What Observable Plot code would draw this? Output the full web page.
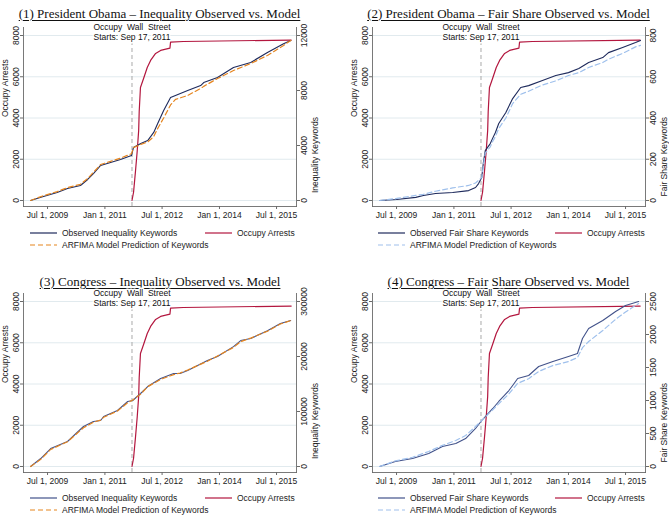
<!DOCTYPE html>
<html><head><meta charset="utf-8">
<script src="https://cdn.jsdelivr.net/npm/d3@7"></script>
<script src="https://cdn.jsdelivr.net/npm/@observablehq/plot@0.6"></script>
<style>
body{margin:0;background:#fff;}
#page{position:relative;width:669px;height:516px;overflow:hidden;background:#fff;font-family:"Liberation Sans",Arial,sans-serif;}
.title{position:absolute;font-family:"Liberation Serif","Times New Roman",serif;font-size:13px;line-height:13px;text-decoration:underline;text-decoration-thickness:1px;text-underline-offset:2px;white-space:nowrap;transform:translateX(-50%);color:#111;}
.plot{position:absolute;}
.plot svg{position:absolute;left:0;top:0;overflow:visible;}
.leg{position:absolute;font-size:8.5px;line-height:10px;white-space:nowrap;color:#222;}
.sw{position:absolute;overflow:visible;}
.annot{white-space:pre;}
</style></head><body><div id="page"></div>
<script>
// ---------- data ----------
const titles = [
  "(1) President Obama \u2013 Inequality Observed vs. Model",
  "(2) President Obama \u2013 Fair Share Observed vs. Model",
  "(3) Congress \u2013 Inequality Observed vs. Model",
  "(4) Congress \u2013 Fair Share Observed vs. Model"
];
const xTickDates = ["2009-07-01","2011-01-01","2012-07-01","2014-01-01","2015-07-01"];
const xDomainDates = ["2008-11-13","2016-01-08"];
const owsDateStr = "2011-09-17";
const annotationLine1 = "Occupy  Wall  Street";
const annotationLine2 = "Starts: Sep 17, 2011";

const arrestTicks = [0,2000,4000,6000,8000];
const arrestDomain = [-291, 8388];
const arrestDates = ["2011-09-17","2011-10-02","2011-10-21","2011-11-06","2011-11-20","2011-11-25","2011-12-07","2012-01-05","2012-02-10","2012-03-13","2012-04-30","2012-06-17","2012-09-14","2012-09-20","2013-01-20","2015-11-18"];
const arrestValues = [0,400,1450,2400,3400,4300,5480,5900,6450,6790,7130,7275,7390,7680,7710,7780];

// Panel 1: President Obama - Inequality
const p1Ticks = [0,4000,8000,12000];
const p1Domain = [-436, 12582];
const p1Dates = ["2009-01-20","2009-05-15","2009-10-01","2010-01-08","2010-05-12","2010-07-20","2010-09-13","2010-11-21","2011-02-24","2011-05-30","2011-09-12","2011-10-01","2011-12-10","2012-02-14","2012-04-12","2012-05-20","2012-07-16","2012-09-20","2012-11-06","2013-03-03","2013-07-05","2013-08-03","2013-12-13","2014-05-15","2014-10-27","2015-04-05","2015-09-06","2015-11-14"];
const p1Observed = [0,270,580,870,1090,1530,1960,2550,2760,2980,3270,3850,4150,4360,4950,5600,6550,7490,7640,8000,8360,8580,8950,9670,10040,10760,11400,11640];
const p1Model = [0,330,650,940,1180,1600,2050,2620,2850,3080,3400,3850,4080,4250,4650,5240,6000,6950,7350,7640,8150,8300,8870,9450,9960,10550,11270,11640];

// Panel 2: President Obama - Fair Share
const p2Ticks = [0,200,400,600,800];
const p2Domain = [-29.1, 838.8];
const p2Dates = ["2009-01-20","2009-07-01","2010-01-01","2010-03-15","2010-07-09","2010-12-20","2011-05-22","2011-07-27","2011-08-25","2011-09-24","2011-10-10","2011-10-28","2011-12-15","2012-01-05","2012-02-02","2012-03-05","2012-05-12","2012-07-16","2012-10-01","2012-12-16","2013-04-27","2013-09-02","2014-01-01","2014-04-10","2014-07-13","2014-11-25","2015-01-19","2015-06-03","2015-10-05","2015-11-21"];
const p2Observed = [0,5,15,24,34,39,48,63,82,111,184,242,276,300,330,373,427,494,548,557,582,606,620,640,669,693,717,742,766,776];
const p2Model = [0,10,25,30,45,61,73,85,98,111,170,230,260,285,310,349,400,470,515,530,560,580,606,620,645,669,685,713,745,752];

// Panel 3: Congress - Inequality
const p3Ticks = [0,100000,200000,300000];
const p3Domain = [-10909, 314545];
const p3Dates = ["2009-01-20","2009-04-27","2009-07-31","2010-01-08","2010-06-10","2010-09-13","2010-11-21","2010-12-20","2011-05-01","2011-08-07","2011-09-24","2011-12-08","2012-02-14","2012-06-17","2012-10-20","2012-12-20","2013-03-03","2013-09-08","2013-12-13","2014-05-15","2014-07-23","2014-10-27","2015-04-05","2015-08-07","2015-11-14"];
const p3Observed = [0,14500,32700,45500,72700,81800,83600,90900,101800,118200,120000,132700,145400,160000,169000,169000,174500,192700,200000,218000,229000,232700,247000,260000,265400];
const p3Model = [0,13000,31000,45000,70500,80500,84500,89500,101000,116000,121000,131500,145000,158500,167000,170000,175500,191500,201000,216500,227000,233500,246000,259000,265400];

// Panel 4: Congress - Fair Share
const p4Ticks = [0,500,1000,1500,2000,2500];
const p4Domain = [-90.9, 2621.2];
const p4Dates = ["2009-01-20","2009-06-20","2009-12-01","2010-05-05","2010-09-13","2011-01-19","2011-04-23","2011-07-27","2011-09-24","2012-01-08","2012-03-05","2012-06-10","2012-07-16","2012-09-02","2012-12-16","2013-03-22","2013-08-05","2014-01-01","2014-03-28","2014-05-15","2014-07-13","2014-11-25","2015-03-28","2015-07-01","2015-11-03"];
const p4Observed = [0,76,121,197,303,348,424,576,697,879,985,1151,1227,1333,1379,1515,1591,1667,1712,1939,2091,2212,2348,2439,2500];
const p4Model = [0,85,140,227,320,394,470,606,697,860,950,1100,1170,1260,1330,1440,1530,1591,1650,1800,1894,2060,2230,2340,2470];

// ---------- styles ----------
const red = "#b3173f";
const navyTop = "#1e2a5c";
const navyBottom = "#42528a";
const orange = "#e5851f";
const lightBlue = "#9fc0ec";
const gridColor = "#dee8ec";
const axisColor = "#6a6a6a";
const textColor = "#222";
const font = "'Liberation Sans', Arial, sans-serif";

const parse = d3.utcParse("%Y-%m-%d");
const xDomain = xDomainDates.map(parse);
const xTicks = xTickDates.map(parse);
const owsDate = parse(owsDateStr);
const fmt = d3.utcFormat("%b %-d, %Y");
const numFmt = d3.format("d");
const arrests = arrestDates.map((d, i) => ({date: parse(d), value: arrestValues[i]}));

const panels = [
  {left:0, top:20, width:334, mr:38, title:titles[0], titleX:159.5, titleY:6.5,
   kwDomain:p1Domain, kwTicks:p1Ticks, kwLabel:"Inequality Keywords",
   dates:p1Dates, obs:p1Observed, model:p1Model, obsColor:navyTop, modelColor:orange,
   obsLabel:"Observed Inequality Keywords", legX:30, leg2X:205, legY:233},
  {left:349, top:20, width:320, mr:24, title:titles[1], titleX:508.5, titleY:6.5,
   kwDomain:p2Domain, kwTicks:p2Ticks, kwLabel:"Fair Share Keywords",
   dates:p2Dates, obs:p2Observed, model:p2Model, obsColor:navyTop, modelColor:lightBlue,
   obsLabel:"Observed Fair Share Keywords", legX:378, leg2X:555, legY:233},
  {left:0, top:286, width:334, mr:38, title:titles[2], titleX:160, titleY:274.5,
   kwDomain:p3Domain, kwTicks:p3Ticks, kwLabel:"Inequality Keywords",
   dates:p3Dates, obs:p3Observed, model:p3Model, obsColor:navyBottom, modelColor:orange,
   obsLabel:"Observed Inequality Keywords", legX:30, leg2X:205, legY:498},
  {left:349, top:286, width:320, mr:24, title:titles[3], titleX:508.5, titleY:274.5,
   kwDomain:p4Domain, kwTicks:p4Ticks, kwLabel:"Fair Share Keywords",
   dates:p4Dates, obs:p4Observed, model:p4Model, obsColor:navyBottom, modelColor:lightBlue,
   obsLabel:"Observed Fair Share Keywords", legX:378, leg2X:555, legY:498}
];

const page = document.getElementById("page");
const svgNS = "http://www.w3.org/2000/svg";

function addLegendItem(x, y, color, dashed, label) {
  const sw = document.createElementNS(svgNS, "svg");
  sw.setAttribute("class", "sw");
  sw.setAttribute("width", 27); sw.setAttribute("height", 4);
  sw.style.left = x + "px"; sw.style.top = (y - 2) + "px";
  const ln = document.createElementNS(svgNS, "line");
  ln.setAttribute("x1", 0); ln.setAttribute("x2", 27);
  ln.setAttribute("y1", 2); ln.setAttribute("y2", 2);
  ln.setAttribute("stroke", color); ln.setAttribute("stroke-width", 1.2);
  if (dashed) ln.setAttribute("stroke-dasharray", "5,3");
  sw.appendChild(ln);
  page.appendChild(sw);
  const t = document.createElement("div");
  t.className = "leg";
  t.textContent = label;
  t.style.left = (x + 32) + "px";
  t.style.top = (y - 5.5) + "px";
  page.appendChild(t);
}

for (const p of panels) {
  const title = document.createElement("div");
  title.className = "title";
  title.textContent = p.title;
  title.style.left = p.titleX + "px";
  title.style.top = p.titleY + "px";
  page.appendChild(title);

  const box = document.createElement("div");
  box.className = "plot";
  box.style.left = p.left + "px"; box.style.top = p.top + "px";
  box.style.width = p.width + "px"; box.style.height = "202px";
  page.appendChild(box);

  const common = {
    width: p.width, height: 202,
    marginLeft: 23, marginRight: p.mr, marginTop: 7, marginBottom: 16,
    style: {background: "transparent", fontFamily: font, fontSize: "8.5px", overflow: "visible", color: textColor}
  };

  const annot = [{date: owsDate, l1: annotationLine1, l2: annotationLine2}];
  const halo = {fill: "#111", stroke: "white", strokeWidth: 3, paintOrder: "stroke", frameAnchor: "top", lineAnchor: "top", className: "annot"};

  const A = Plot.plot({
    ...common,
    x: {type: "utc", domain: xDomain, axis: null},
    y: {domain: arrestDomain, axis: null},
    marks: [
      Plot.gridY(arrestTicks, {stroke: gridColor, strokeOpacity: 1, strokeWidth: 0.9}),
      Plot.ruleX([owsDate], {stroke: "#a9a9a9", strokeDasharray: "4,3", strokeWidth: 1}),
      Plot.frame({anchor: "bottom", stroke: axisColor, strokeWidth: 0.9}),
      Plot.frame({anchor: "left", stroke: axisColor, strokeWidth: 0.9}),
      Plot.frame({anchor: "right", stroke: axisColor, strokeWidth: 0.9}),
      Plot.axisX(xTicks, {tickSize: 3, tickPadding: 2, tickFormat: fmt, stroke: axisColor, fill: textColor, label: null}),
      Plot.axisY(arrestTicks, {tickSize: 3, tickPadding: 1.5, tickRotate: -90, tickFormat: numFmt, stroke: axisColor, fill: textColor, label: null}),
      Plot.text(["Occupy Arrests"], {frameAnchor: "left", dx: -18, rotate: -90, fill: textColor}),
      Plot.text(annot, {x: "date", text: "l1", dy: -3.6, ...halo}),
      Plot.text(annot, {x: "date", text: "l2", dy: 6.4, ...halo}),
      Plot.line(arrests, {x: "date", y: "value", stroke: red, strokeWidth: 1.2})
    ]
  });

  const obsRows = p.dates.map((d, i) => ({date: parse(d), value: p.obs[i]}));
  const modelRows = p.dates.map((d, i) => ({date: parse(d), value: p.model[i]}));

  const B = Plot.plot({
    ...common,
    x: {type: "utc", domain: xDomain, axis: null},
    y: {domain: p.kwDomain, axis: null},
    marks: [
      Plot.axisY(p.kwTicks, {anchor: "right", tickSize: 3, tickPadding: 1.5, tickRotate: -90, lineAnchor: "top", tickFormat: numFmt, stroke: axisColor, fill: textColor, label: null}),
      Plot.text([p.kwLabel], {frameAnchor: "right", dx: 19, rotate: -90, fill: textColor}),
      Plot.line(obsRows, {x: "date", y: "value", stroke: p.obsColor, strokeWidth: 1.1}),
      Plot.line(modelRows, {x: "date", y: "value", stroke: p.modelColor, strokeWidth: 1.2, strokeDasharray: "5,3"})
    ]
  });

  box.appendChild(A);
  box.appendChild(B);

  addLegendItem(p.legX, p.legY, p.obsColor, false, p.obsLabel);
  addLegendItem(p.leg2X, p.legY, red, false, "Occupy Arrests");
  addLegendItem(p.legX, p.legY + 12, p.modelColor, true, "ARFIMA Model Prediction of Keywords");
}
</script></body></html>
